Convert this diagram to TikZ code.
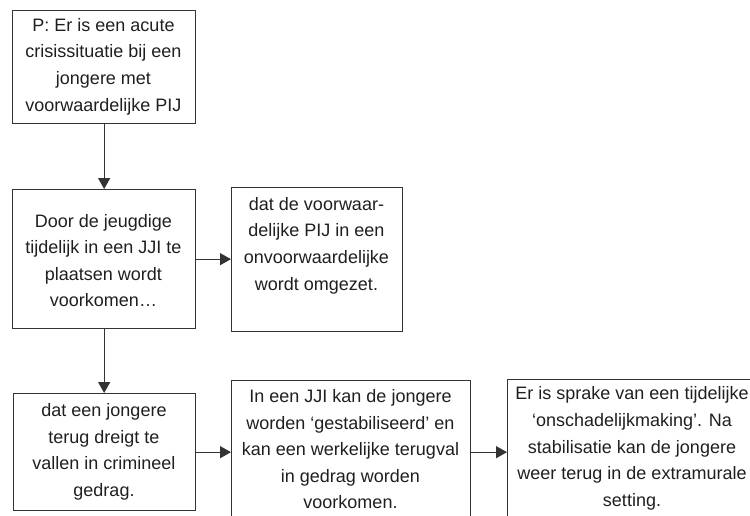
\documentclass[tikz,border=0pt]{standalone}
\usepackage{fontspec}
\setmainfont{Liberation Sans}
\usetikzlibrary{arrows.meta}
\begin{document}
\begin{tikzpicture}[x=1pt,y=-1pt,
  box/.style={draw=black!80, line width=1.3pt, anchor=north west, inner sep=0pt},
  txt/.style={align=center, inner sep=0pt, text=black!88, font=\fontsize{18}{26.6}\selectfont},
  arr/.style={draw=black!80, line width=1.3pt, -{Triangle[width=12pt,length=11pt]}}]
\useasboundingbox (0,0) rectangle (750,515);
\clip (0,0) rectangle (750,515);
% boxes
\node[box, minimum width=183pt, minimum height=113pt] (a) at (12,10) {};
\node[box, minimum width=183pt, minimum height=139pt] (b) at (12,189) {};
\node[box, minimum width=171pt, minimum height=144pt] (c) at (231,187) {};
\node[box, minimum width=182pt, minimum height=117pt] (d) at (13,393) {};
\node[box, minimum width=239pt, minimum height=145pt] (e) at (231,380) {};
\node[box, minimum width=250pt, minimum height=146pt] (f) at (507,379) {};
% texts
\node[txt] (ta) at (103.5,66.5) {P: Er is een acute\\crisissituatie bij een\\jongere met\\voorwaardelijke PIJ};
\node[txt] (tb) at (103.5,260.5) {Door de jeugdige\\tijdelijk in een JJI te\\plaatsen wordt\\voorkomen\ldots};
\node[txt] (tc) at (316.5,245.5) {dat de voorwaar-\\delijke PIJ in een\\onvoorwaardelijke\\wordt omgezet.};
\node[txt] (td) at (104,451.7) {dat een jongere\\terug dreigt te\\vallen in crimineel\\gedrag.};
\node[txt] (te) at (350.5,449.3) {In een JJI kan de jongere\\worden ‘gestabiliseerd’ en\\kan een werkelijke terugval\\in gedrag worden\\voorkomen.};
\node[txt] (tf) at (632,448.5) {Er is sprake van een tijdelijke\\‘onschadelijkmaking’. Na\\stabilisatie kan de jongere\\weer terug in de extramurale\\setting.};
% connectors
\draw[arr] (a.south) -- (b.north);
\draw[arr] (b.east) -- (b.east -| c.west);
\draw[arr] (b.south) -- (b.south |- d.north);
\draw[arr] (d.east) -- (d.east -| e.west);
\draw[arr] (d.east -| e.east) -- (d.east -| f.west);
\end{tikzpicture}
\end{document}
